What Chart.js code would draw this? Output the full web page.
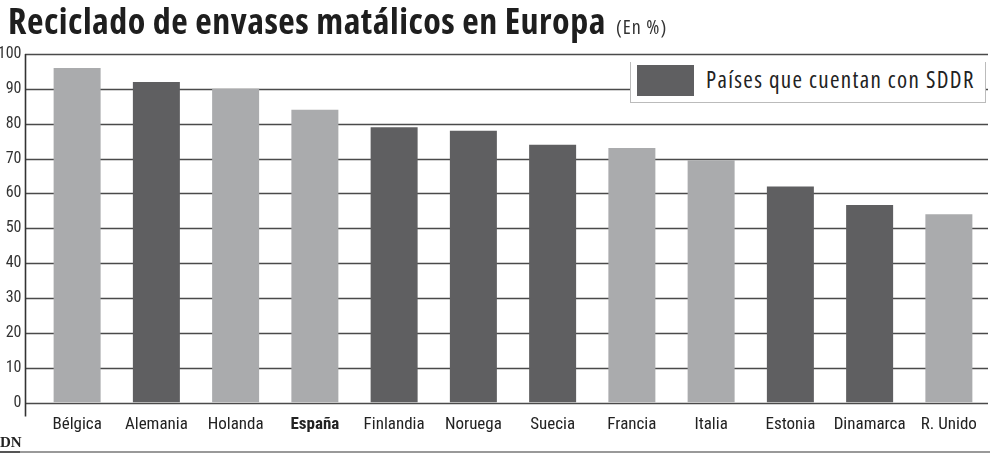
<!DOCTYPE html>
<html>
<head>
<meta charset="utf-8">
<script src="https://cdn.jsdelivr.net/npm/chart.js@4.4.1/dist/chart.umd.min.js"></script>
<style>
  body { margin: 0; width: 990px; height: 454px; background: #fff; position: relative; overflow: hidden;
         font-family: "Open Sans", sans-serif; font-stretch: 75%; }
  #title { position: absolute; left: 8px; top: -4px; white-space: nowrap; color: #1e1e1e; }
  #title b { font-size: 36px; font-weight: 700; letter-spacing: 0.5px; }
  #title span { font-size: 20px; margin-left: 10px; color: #333; letter-spacing: 1px; }
  #wrap { position: absolute; left: 0; top: 0; width: 990px; height: 454px; }
  #legend { position: absolute; left: 630px; top: 62px; width: 356px; height: 41px; background: #fff;
            border: 1px solid #bbb; border-top: none; box-sizing: border-box; }
  #legend .sw { position: absolute; left: 6px; top: 3px; width: 57px; height: 31px; background: #5f5f61; }
  #legend .tx { position: absolute; left: 75px; top: 1px; font-size: 23px; color: #222; white-space: nowrap;
                letter-spacing: 1.35px; }
  #dn { position: absolute; left: 0; top: 434px; font: bold 15px "Liberation Serif", serif; color: #222; }
  #rule { position: absolute; left: 0; top: 451px; width: 990px; height: 2px; background: #999; }
  #rule2 { position: absolute; left: 0; top: 451px; width: 20px; height: 2px; background: #555; }
</style>
</head>
<body>
<div id="wrap"><canvas id="chart"></canvas></div>
<div id="title"><b>Reciclado de envases matálicos en Europa</b><span>(En %)</span></div>
<div id="legend"><div class="sw"></div><div class="tx">Países que cuentan con SDDR</div></div>
<div id="dn">DN</div>
<div id="rule"></div><div id="rule2"></div>
<script>
// Datos del gráfico
const paises = ["Bélgica", "Alemania", "Holanda", "España", "Finlandia", "Noruega",
                "Suecia", "Francia", "Italia", "Estonia", "Dinamarca", "R. Unido"];
const reciclado = [96, 92, 90, 84, 79, 78, 74, 73, 69.5, 62, 56.7, 54];
// true = país con SDDR
const conSDDR = [false, true, false, false, true, true, true, false, false, true, true, false];
const yTicks = [0, 10, 20, 30, 40, 50, 60, 70, 80, 90, 100];

const OSCURO = "#5f5f61";
const CLARO = "#aaabad";
const FUENTE = '"Roboto Condensed", "Open Sans", sans-serif';

// Gridlines start left of the chart area, at the axis line
const gridPlugin = {
    id: "grid",
    beforeDatasetsDraw(chart) {
        const ctx = chart.ctx;
        const y = chart.scales.y;
        ctx.save();
        ctx.strokeStyle = "#4a4a4a";
        ctx.lineWidth = 1.4;
        yTicks.forEach(v => {
            const py = Math.round(y.getPixelForValue(v)) + 0.5;
            ctx.beginPath();
            ctx.moveTo(25, py);
            ctx.lineTo(988, py);
            ctx.stroke();
        });
        ctx.strokeStyle = "#333";
        ctx.lineWidth = 1.6;
        ctx.beginPath();
        ctx.moveTo(25.5, Math.round(y.getPixelForValue(100)));
        ctx.lineTo(25.5, y.getPixelForValue(0) + 14);
        ctx.stroke();
        ctx.restore();
    }
};

new Chart(document.getElementById("chart"), {
    type: "bar",
    data: {
        labels: paises,
        datasets: [{
            data: reciclado,
            backgroundColor: conSDDR.map(c => c ? OSCURO : CLARO),
            barPercentage: 0.593,
            categoryPercentage: 1
        }]
    },
    options: {
        responsive: true,
        maintainAspectRatio: false,
        animation: false,
        layout: { padding: { top: 54, right: 1.5, bottom: 15, left: 0 } },
        plugins: { legend: { display: false }, tooltip: { enabled: false } },
        scales: {
            x: {
                grid: { display: false },
                border: { display: false },
                ticks: {
                    color: "#222",
                    padding: 4,
                    maxRotation: 0,
                    autoSkip: false,
                    font: c => ({ family: FUENTE, size: 17,
                                  weight: c.index === 3 ? "bold" : "normal" })
                }
            },
            y: {
                min: 0,
                max: 100,
                afterFit(scale) { scale.width = 37.5; },
                afterBuildTicks(scale) { scale.ticks = yTicks.map(v => ({ value: v })); },
                grid: { display: false },
                border: { display: false },
                ticks: { color: "#333", padding: 8, font: { family: FUENTE, size: 16 } }
            }
        }
    },
    plugins: [gridPlugin]
});
</script>
</body>
</html>
